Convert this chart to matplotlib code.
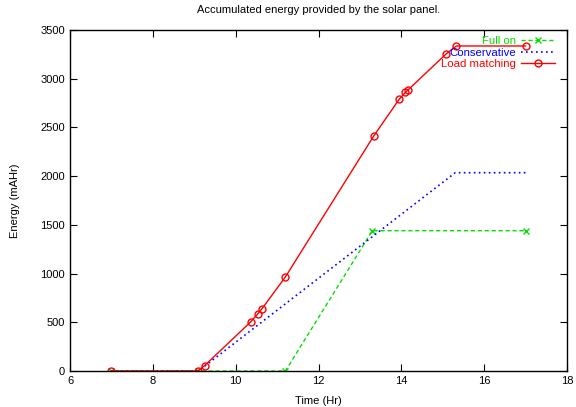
import numpy as np
import matplotlib
matplotlib.use("Agg")
import matplotlib.pyplot as plt

# data
full_t = [7.0, 9.1, 11.2, 13.3, 17.0]
full_e = [0, 0, 0, 1440, 1440]

cons_t = [7.0, 9.1, 15.3, 17.0]
cons_e = [0, 0, 2035, 2035]

load_t = [7.0, 9.08, 9.25, 10.36, 10.53, 10.63, 11.2, 13.33, 13.95,
          14.1, 14.15, 15.08, 15.33, 17.0]
load_e = [0, 0, 55, 503, 585, 636, 965, 2410, 2790,
          2860, 2880, 3254, 3336, 3336]

plt.rcParams['font.family'] = ['Liberation Sans', 'DejaVu Sans']
plt.rcParams['font.size'] = 8

fig = plt.figure(figsize=(5.76, 4.07), dpi=100)
ax = fig.add_axes([70/576, 1-371/407, (567-70)/576, (371-30)/407])

ax.plot(full_t, full_e, color='#00e000', ls=(0, (3, 2)), lw=1,
        marker='x', ms=5, mew=1, label='Full on')
ax.plot(cons_t, cons_e, color='#0000ff', ls=(0, (1, 2)), lw=1.2,
        label='Conservative')
ax.plot(load_t, load_e, color='#ff0000', ls='-', lw=1,
        marker='o', ms=5, mfc='none', mew=1, label='Load matching')

ax.set_xlim(6, 18)
ax.set_ylim(0, 3500)
ax.set_xticks(np.arange(6, 19, 2))
ax.set_yticks(np.arange(0, 3501, 500))
ax.tick_params(direction='in', top=True, right=True, length=5, width=0.8)
for s in ax.spines.values():
    s.set_linewidth(1)

ax.set_xlabel('Time (Hr)', labelpad=7)
ax.set_ylabel('Energy (mAHr)', labelpad=15)
ax.set_title('Accumulated energy provided by the solar panel.', fontsize=8, pad=12)

leg = ax.legend(loc='upper right', frameon=False, markerfirst=False,
                labelcolor='linecolor', fontsize=8.2, handlelength=3.0,
                handletextpad=0.4, labelspacing=0.12,
                bbox_to_anchor=(0.992, 1.005), borderaxespad=0.4,
                borderpad=0.3)
for t in leg.get_texts():
    t.set_ha('right')

fig.savefig('out.png', dpi=100)
